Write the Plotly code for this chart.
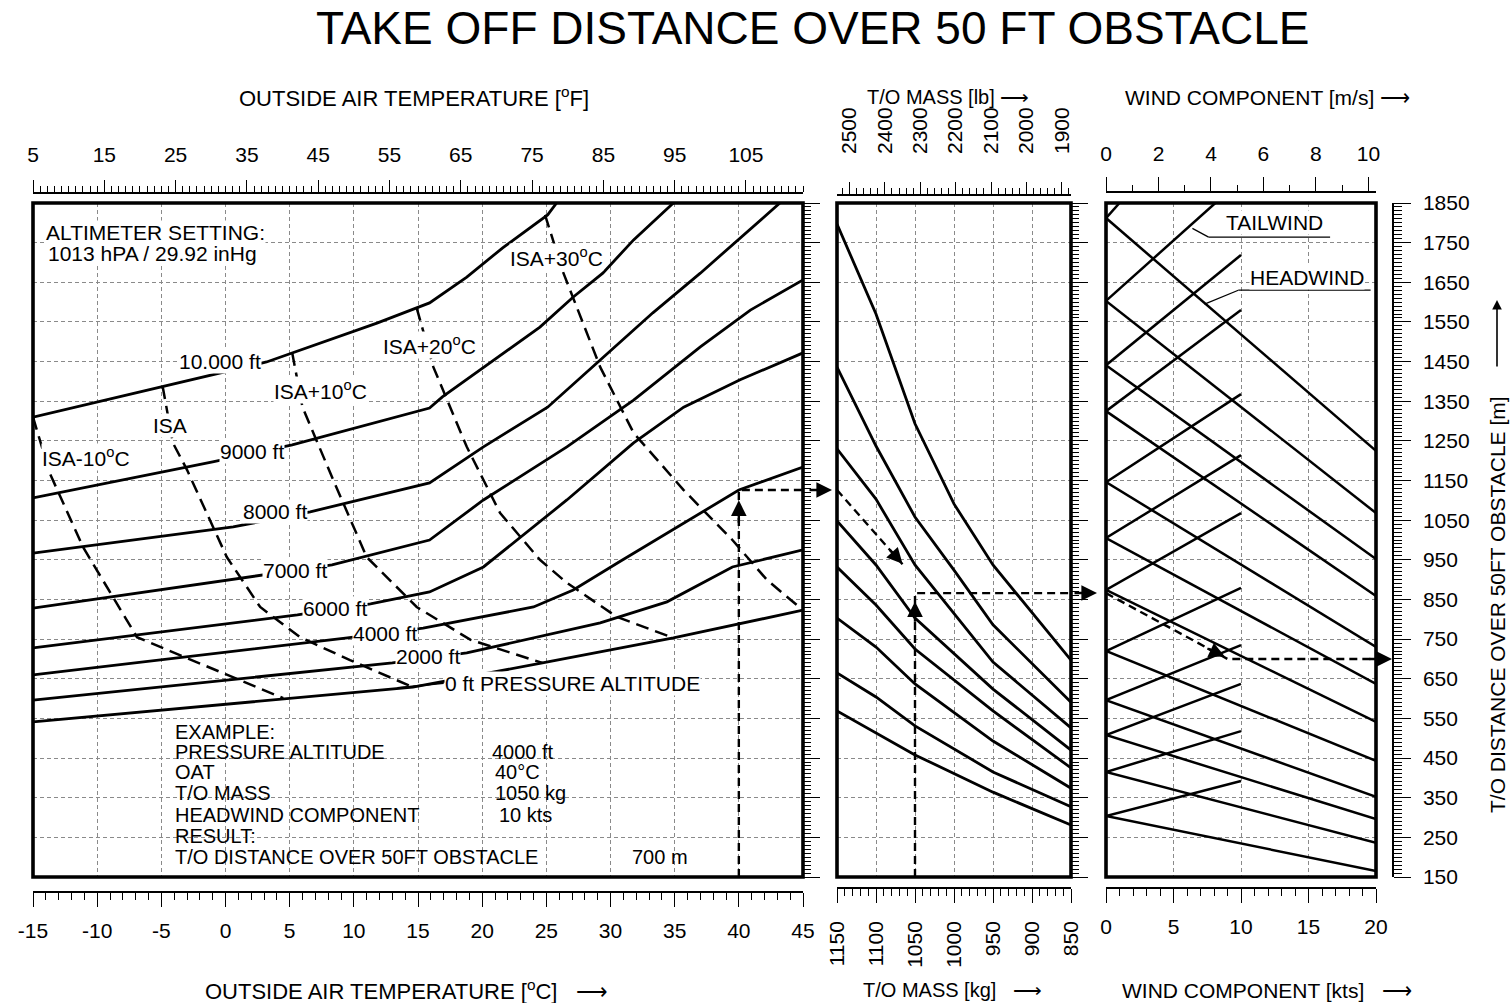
import plotly.graph_objects as go

# ======================= DATA =======================
# Panel 1 : pressure-altitude lines  (OAT [deg C]  ->  T/O distance [m])
ALT10000_OAT = [-15, -2.2, 3.2, 11.8, 15.9, 18.8, 21.6, 25.1, 25.8]
ALT10000_DST = [1310, 1409, 1449, 1547, 1598, 1663, 1737, 1820, 1850]
ALT9000_OAT = [-15, -1.0, 5.2, 15.9, 16.9, 20.1, 24.5, 27.1, 29.4, 31.8, 34.9]
ALT9000_DST = [1106, 1197, 1240, 1333, 1361, 1436, 1537, 1613, 1673, 1757, 1850]
ALT8000_OAT = [-15, 0.6, 6.6, 15.9, 20.1, 25.1, 29.2, 33.3, 37.0, 43.2]
ALT8000_DST = [967, 1033, 1071, 1144, 1235, 1335, 1454, 1573, 1673, 1850]
ALT7000_OAT = [-15, 2.1, 8.3, 15.9, 20.1, 26.6, 31.8, 37.0, 40.9, 45]
ALT7000_DST = [828, 907, 937, 1000, 1101, 1235, 1353, 1487, 1580, 1656]
ALT6000_OAT = [-15, 5.6, 11.3, 15.9, 20.1, 26.6, 31.8, 35.7, 40.1, 45]
ALT6000_DST = [728, 811, 839, 869, 932, 1101, 1245, 1335, 1404, 1472]
ALT4000_OAT = [-15, 9.5, 15.4, 24.0, 27.1, 30.7, 40.0, 45]
ALT4000_DST = [660, 753, 778, 831, 874, 945, 1126, 1184]
ALT2000_OAT = [-15, 13.0, 18.8, 29.2, 34.4, 39.5, 45]
ALT2000_DST = [596, 690, 715, 791, 844, 932, 975]
ALT0_OAT = [-15, 14.6, 24.7, 34.9, 45]
ALT0_DST = [541, 629, 690, 753, 823]

# ISA temperature lines (dashed)
ISAM10_OAT = [-15, -13.7, -11.1, -6.9, -3.0, 0.6, 4.5]
ISAM10_DST = [1310, 1169, 982, 755, 702, 654, 601]
ISA_OAT = [-4.9, -4.1, -3.0, 0.1, 2.7, 5.8, 9.7, 14.6]
ISA_DST = [1388, 1245, 1177, 957, 831, 755, 697, 629]
ISAP10_OAT = [5.2, 6.0, 8.4, 11.0, 14.9, 19.1, 24.7]
ISAP10_DST = [1472, 1335, 1151, 957, 831, 748, 690]
ISAP20_OAT = [14.9, 16.2, 18.8, 21.4, 24.5, 26.6, 30.5, 34.9]
ISAP20_DST = [1585, 1436, 1235, 1068, 950, 892, 806, 753]
ISAP30_OAT = [24.9, 26.3, 29.2, 31.8, 35.7, 39.5, 42.2, 45]
ISAP30_DST = [1820, 1676, 1436, 1270, 1126, 1000, 899, 823]

# Panel 2 : T/O mass guide lines (mass [kg] -> distance [m])
MASS_KG_6 = [1150, 1100, 1050, 1000, 950, 850]
MASS_KG_5 = [1150, 1100, 1050, 950, 850]
MASS_A_DST = [1797, 1570, 1293, 1091, 937, 697]
MASS_B_DST = [1436, 1237, 1058, 924, 786, 591]
MASS_C_DST = [1230, 1103, 937, 692, 526]
MASS_D_DST = [1048, 937, 803, 624, 470]
MASS_E_DST = [932, 836, 725, 569, 425]
MASS_F_DST = [803, 730, 637, 493, 374]
MASS_G_DST = [665, 604, 531, 415, 327]
MASS_H_DST = [569, 513, 458, 364, 281]

# Panel 3 : wind component guide lines
WIND_START_DST = [1812, 1603, 1441, 1325, 1146, 1005, 874, 720, 596, 508, 415, 304]   # at 0 kts
HEADWIND_END_DST = [1225, 1068, 952, 859, 730, 637, 541, 443, 352, 296, 236, 165]     # at 20 kts
TAILWIND_END_KTS = [1.0, 8.1, 10, 10, 10, 10, 10, 10, 10, 10, 10, 10]
TAILWIND_END_DST = [1850, 1850, 1719, 1580, 1368, 1214, 1068, 879, 735, 637, 518, 392]

# Worked example path
EX1_OAT = [40, 40, 45]
EX1_DST = [150, 1126, 1126]
EX2_KG = [1150, 1062]
EX2_DST = [1126, 930]
EX3_KG = [1050, 1050, 850]
EX3_DST = [150, 866, 866]
EX4_KTS = [0, 9, 20]
EX4_DST = [866, 700, 700]

# Axis ticks
OAT_C_RANGE = [-15, 45]
OAT_C_TICKS = [-15, -10, -5, 0, 5, 10, 15, 20, 25, 30, 35, 40, 45]
OAT_F_RANGE = [5, 113]
MASS_KG_RANGE = [1150, 850]
MASS_LB_RANGE = [1150 * 2.20462, 850 * 2.20462]
WIND_KTS_RANGE = [0, 20]
WIND_MS_RANGE = [0, 20 * 0.514444]
DIST_RANGE = [150, 1850]

# ======================= FIGURE =======================
W, H = 1510, 1003
FONT = "Liberation Sans, Arial, sans-serif"


def px(x):
    return x / W


def py(y):
    return 1 - y / H


fig = go.Figure()
LW = 2.8


def add_line(xs, ys, xa, ya, dash="solid", width=LW):
    fig.add_trace(go.Scatter(x=xs, y=ys, xaxis=xa, yaxis=ya, mode="lines",
                             line=dict(color="black", width=width, dash=dash),
                             hoverinfo="skip", showlegend=False))


ALT_OAT = [ALT10000_OAT, ALT9000_OAT, ALT8000_OAT, ALT7000_OAT, ALT6000_OAT, ALT4000_OAT, ALT2000_OAT, ALT0_OAT]
ALT_DST = [ALT10000_DST, ALT9000_DST, ALT8000_DST, ALT7000_DST, ALT6000_DST, ALT4000_DST, ALT2000_DST, ALT0_DST]
for xs, ys in zip(ALT_OAT, ALT_DST):
    add_line(xs, ys, "x", "y")

ISA_OATS = [ISAM10_OAT, ISA_OAT, ISAP10_OAT, ISAP20_OAT, ISAP30_OAT]
ISA_DSTS = [ISAM10_DST, ISA_DST, ISAP10_DST, ISAP20_DST, ISAP30_DST]
for xs, ys in zip(ISA_OATS, ISA_DSTS):
    add_line(xs, ys, "x", "y", dash="13px,7px", width=2.5)

for ys in [MASS_A_DST, MASS_B_DST]:
    add_line(MASS_KG_6, ys, "x2", "y2")
for ys in [MASS_C_DST, MASS_D_DST, MASS_E_DST, MASS_F_DST, MASS_G_DST, MASS_H_DST]:
    add_line(MASS_KG_5, ys, "x2", "y2")

for s, e in zip(WIND_START_DST, HEADWIND_END_DST):
    add_line([0, 20], [s, e], "x3", "y3", width=2.5)
for s, k, e in zip(WIND_START_DST, TAILWIND_END_KTS, TAILWIND_END_DST):
    add_line([0, k], [s, e], "x3", "y3", width=2.5)

# example path
EXD = "8px,5px"
add_line(EX1_OAT, EX1_DST, "x", "y", dash=EXD, width=2.4)
add_line(EX2_KG, EX2_DST, "x2", "y2", dash=EXD, width=2.4)
add_line(EX3_KG, EX3_DST, "x2", "y2", dash=EXD, width=2.4)
add_line(EX4_KTS, EX4_DST, "x3", "y3", dash=EXD, width=2.4)

# invisible traces so that the ruler axes are drawn
for xa, ya, xv in [("x4", "y", -15), ("x5", "y", 5), ("x6", "y2", 1150), ("x7", "y2", 2500),
                   ("x8", "y3", 0), ("x9", "y3", 0), ("x3", "y4", 0)]:
    fig.add_trace(go.Scatter(x=[xv], y=[150], xaxis=xa, yaxis=ya, mode="markers",
                             marker=dict(opacity=0), hoverinfo="skip", showlegend=False))

DOM_Y = [py(877), py(203)]
DOM_A = [px(33), px(803)]
DOM_B = [px(837), px(1071)]
DOM_C = [px(1106), px(1376)]

GRID = dict(showgrid=True, gridcolor="#8a8a8a", gridwidth=1, griddash="4px,3px", zeroline=False)
TF = dict(family=FONT, size=21, color="black")


def data_x(dom, rng, tick0, dtick, anchor):
    return dict(domain=dom, range=rng, anchor=anchor, tick0=tick0, dtick=dtick, ticks="",
                showticklabels=False, showline=False, fixedrange=True, automargin=False, **GRID)


def data_y(anchor, ruler=True):
    d = dict(domain=DOM_Y, range=DIST_RANGE, anchor=anchor, tick0=150, dtick=100,
             showticklabels=False, showline=False, side="right", fixedrange=True,
             automargin=False, **GRID)
    if ruler:
        d.update(ticks="outside", ticklen=16, tickwidth=1.3, tickcolor="black",
                 minor=dict(ticks="outside", ticklen=7, tickwidth=1.1, tickcolor="black",
                            tick0=150, dtick=10, showgrid=False))
    else:
        d.update(ticks="")
    return d


def ruler_x(over, pos, side, rng, tick0, dtick, mtick0, mdtick, angle=0, standoff=6, mlen=7, Mlen=14,
            tickvals=None):
    d = dict(overlaying=over, anchor="free", position=pos, side=side, range=rng,
             tick0=tick0, dtick=dtick, ticks="outside", ticklen=Mlen, tickwidth=1.4,
             tickcolor="black", showline=True, linecolor="black", linewidth=1.5,
             showgrid=False, zeroline=False, tickfont=TF, tickangle=angle,
             ticklabelstandoff=standoff, fixedrange=True, automargin=False,
             minor=dict(ticks="outside", ticklen=mlen, tickwidth=1.1, tickcolor="black",
                        tick0=mtick0, dtick=mdtick, showgrid=False))
    if tickvals is not None:
        d.update(tickmode="array", tickvals=tickvals, ticktext=[str(v) for v in tickvals])
    return d


layout = dict(
    width=W, height=H, autosize=False,
    margin=dict(l=0, r=0, t=0, b=0, pad=0, autoexpand=False),
    paper_bgcolor="white", plot_bgcolor="white",
    font=dict(family=FONT, color="black"),
    showlegend=False,
    xaxis=data_x(DOM_A, OAT_C_RANGE, -15, 5, "y"),
    yaxis=data_y("x"),
    xaxis2=data_x(DOM_B, MASS_KG_RANGE, 850, 50, "y2"),
    yaxis2=data_y("x2"),
    xaxis3=data_x(DOM_C, WIND_KTS_RANGE, 0, 5, "y3"),
    yaxis3=data_y("x3", ruler=False),
    xaxis4=ruler_x("x", py(892), "bottom", OAT_C_RANGE, -15, 5, -15, 1, standoff=6,
                   tickvals=OAT_C_TICKS),
    xaxis5=ruler_x("x", py(193), "top", OAT_F_RANGE, 5, 10, 5, 1, standoff=10, mlen=6, Mlen=12),
    xaxis6=ruler_x("x2", py(888), "bottom", MASS_KG_RANGE, 850, 50, 850, 10, angle=-90, standoff=10),
    xaxis7=ruler_x("x2", py(195), "top", MASS_LB_RANGE, 1900, 100, 1900, 20, angle=-90, standoff=24,
                   mlen=6, Mlen=12),
    xaxis8=ruler_x("x3", py(888), "bottom", WIND_KTS_RANGE, 0, 5, 0, 1, standoff=6),
    xaxis9=ruler_x("x3", py(192), "top", WIND_MS_RANGE, 0, 2, 0, 1, standoff=8, mlen=6, Mlen=14),
    yaxis4=dict(overlaying="y3", anchor="free", position=px(1393), side="right", range=DIST_RANGE,
                tick0=150, dtick=100, ticks="outside", ticklen=17, tickwidth=1.4, tickcolor="black",
                showline=True, linecolor="black", linewidth=1.5, showgrid=False, zeroline=False,
                tickfont=TF, ticklabelstandoff=8, fixedrange=True, automargin=False,
                minor=dict(ticks="outside", ticklen=8, tickwidth=1.1, tickcolor="black",
                           tick0=150, dtick=10, showgrid=False)),
)
fig.update_layout(**layout)

# frames
shapes = []
for xa, ya in [("x", "y"), ("x2", "y2"), ("x3", "y3")]:
    shapes.append(dict(type="rect", xref=f"{xa} domain", yref=f"{ya} domain", x0=0, x1=1, y0=0, y1=1,
                       line=dict(color="black", width=3.6), layer="above"))
# tailwind / headwind label underlines and leaders
for x0, y0, x1, y1 in [(7.6, 1764, 16.6, 1764), (6.4, 1786, 7.6, 1764),
                       (9.8, 1630, 19.6, 1630), (7.3, 1595, 9.8, 1630)]:
    shapes.append(dict(type="line", xref="x3", yref="y3", x0=x0, y0=y0, x1=x1, y1=y1,
                       line=dict(color="black", width=1.2), layer="above"))
# leader for 0 ft label
shapes.append(dict(type="line", xref="x", yref="y", x0=13.4, y0=627, x1=17.0, y1=639,
                   line=dict(color="black", width=1.6)))
fig.update_layout(shapes=shapes)

ann = []


def text(x, y, s, size=21, xref="paper", yref="paper", xanchor="center", bg=None, angle=0):
    d = dict(x=x, y=y, xref=xref, yref=yref, text=s, showarrow=False, xanchor=xanchor,
             yanchor="middle", font=dict(family=FONT, size=size, color="black"), textangle=angle)
    if bg:
        d.update(bgcolor=bg, borderpad=0)
    ann.append(d)


sup = "<sup>o</sup>"
text(px(812), py(28), "TAKE OFF DISTANCE OVER 50 FT OBSTACLE", size=46)
text(px(414), py(97), f"OUTSIDE AIR TEMPERATURE [{sup}F]", size=22)
text(px(948), py(97), "T/O MASS [lb] \u27f6", size=20)
text(px(1267), py(97), "WIND COMPONENT [m/s] \u27f6", size=21)
text(px(407), py(990), f"OUTSIDE AIR TEMPERATURE [{sup}C]   \u27f6", size=22)
text(px(952), py(990), "T/O MASS [kg]   \u27f6", size=20)
text(px(1267), py(990), "WIND COMPONENT [kts]   \u27f6", size=21)
text(px(1497), py(605), "T/O DISTANCE OVER 50FT OBSTACLE [m]", size=21, angle=-90)

text(px(45), py(233), "ALTIMETER SETTING:", xanchor="left", bg="white")
text(px(47), py(253), "1013 hPA / 29.92 inHg", xanchor="left", bg="white")

ex_left = ["EXAMPLE:", "PRESSURE ALTITUDE", "OAT", "T/O MASS", "HEADWIND COMPONENT", "RESULT:",
           "T/O DISTANCE OVER 50FT OBSTACLE"]
ex_y = [732, 752, 772, 793, 815, 836, 857]
for s, yy in zip(ex_left, ex_y):
    text(px(173), py(yy), s, size=20, xanchor="left")
for s, xx, yy in [("4000 ft", 490, 752), ("40\u00b0C", 493, 772), ("1050 kg", 493, 793),
                  ("10 kts", 497, 815), ("700 m", 630, 857)]:
    text(px(xx), py(yy), s, size=20, xanchor="left")

for s, x, y in [("10.000 ft", -0.43, 1451), ("9000 ft", 2.07, 1222), ("8000 ft", 3.86, 1071),
                ("7000 ft", 5.4, 922), ("6000 ft", 8.5, 826), ("4000 ft", 12.4, 765),
                ("2000 ft", 15.8, 705),
                (f"ISA-10{sup}C", -10.9, 1209), ("ISA", -4.3, 1290), (f"ISA+10{sup}C", 7.4, 1378),
                (f"ISA+20{sup}C", 15.9, 1492), (f"ISA+30{sup}C", 25.8, 1714)]:
    text(x, y, s, xref="x", yref="y", bg="white")
text(17.0, 639, "0 ft PRESSURE ALTITUDE", xref="x", yref="y", xanchor="left", bg="white")
text(12.5, 1802, "TAILWIND", xref="x3", yref="y3", bg="white")
text(14.9, 1663, "HEADWIND", xref="x3", yref="y3", bg="white")


def arrow(x, y, ax, ay, xref, yref, axref=None, ayref=None):
    d = dict(x=x, y=y, ax=ax, ay=ay, xref=xref, yref=yref, text="", showarrow=True,
             arrowhead=2, arrowsize=1.3, arrowwidth=2.4, arrowcolor="black")
    if axref:
        d.update(axref=axref, ayref=ayref)
    ann.append(d)


arrow(40, 1100, 40, 1040, "x", "y", "x", "y")
arrow(px(832), py(490), -24, 0, "paper", "paper")
arrow(1066, 940, 1084, 979, "x2", "y2", "x2", "y2")
arrow(1050, 845, 1050, 790, "x2", "y2", "x2", "y2")
arrow(px(1097), py(593), -24, 0, "paper", "paper")
arrow(8.8, 706, 7.4, 728, "x3", "y3", "x3", "y3")
arrow(px(1392), py(659), -24, 0, "paper", "paper")
ann.append(dict(x=px(1497), y=py(300), ax=0, ay=68, xref="paper", yref="paper", text="",
                showarrow=True, arrowhead=2, arrowsize=1.2, arrowwidth=1.6, arrowcolor="black"))

fig.update_layout(annotations=ann)
fig.write_html("out.html", config={"displayModeBar": False},
               post_script="document.body.style.margin='0px';document.body.style.overflow='hidden';")
